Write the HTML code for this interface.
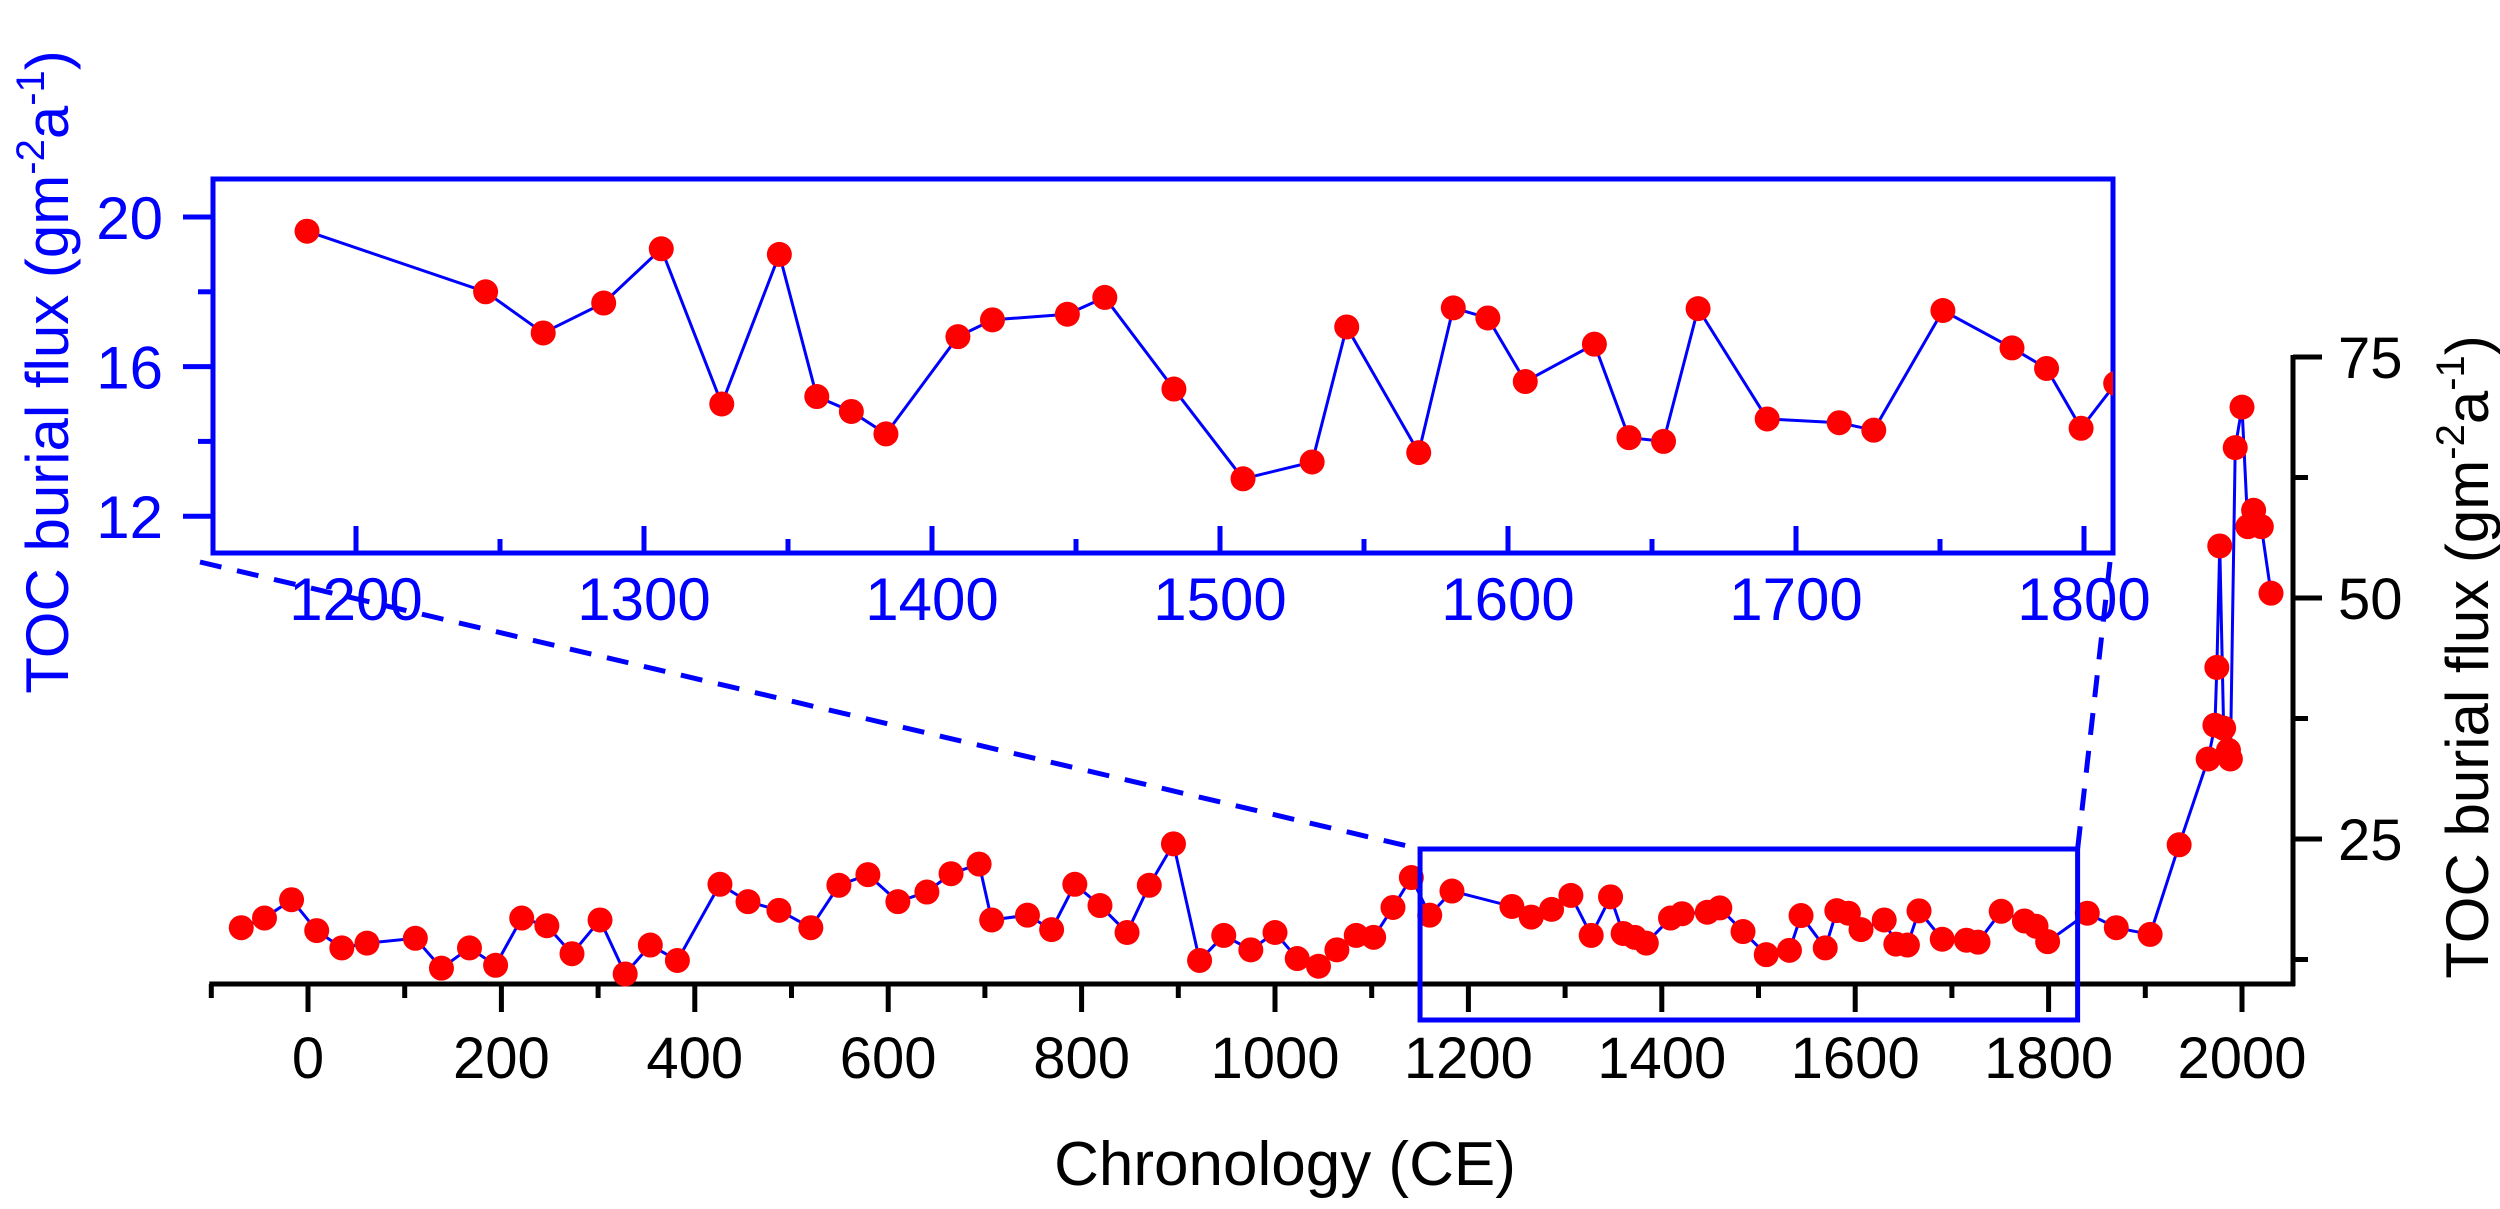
<!DOCTYPE html>
<html><head><meta charset="utf-8"><style>
html,body{margin:0;padding:0;background:#fff}
svg{display:block;font-family:"Liberation Sans",Arial,sans-serif}
</style></head><body>
<svg id="chart" width="2500" height="1209" viewBox="0 0 2500 1209" xmlns="http://www.w3.org/2000/svg">
<defs><clipPath id="insetClip"><rect x="213" y="179" width="1900" height="374"/></clipPath></defs>
<g id="main"></g>
<g id="inset"></g>
<text x="1285" y="1185" font-size="62" text-anchor="middle" fill="#000">Chronology (CE)</text>
<text transform="translate(2488,657) rotate(-90)" font-size="60" text-anchor="middle" fill="#000">TOC burial flux (gm<tspan font-size="40" dy="-24">-2</tspan><tspan dy="24">a</tspan><tspan font-size="40" dy="-24">-1</tspan><tspan dy="24">)</tspan></text>
<text transform="translate(68,372) rotate(-90)" font-size="60" text-anchor="middle" fill="#0000ff">TOC burial flux (gm<tspan font-size="40" dy="-24">-2</tspan><tspan dy="24">a</tspan><tspan font-size="40" dy="-24">-1</tspan><tspan dy="24">)</tspan></text>
</svg>
<script>
const mainYears=[-69,-45,-17,9,35,61,111,138,167,194,221,247,273,302,328,354,382,426,455,487,520,549,579,610,640,665,694,707,744,769,793,819,847,870,895,922,947,975,1000,1023,1045,1064,1084,1102,1122,1141,1160,1183,1245,1265,1286,1306,1327,1347,1360,1372,1384,1409,1421,1447,1460,1484,1508,1532,1544,1569,1581,1593,1606,1630,1642,1654,1666,1690,1715,1727,1751,1775,1787,1799,1840,1870,1905,1935,1965,1972,1974,1977,1981,1986,1988,1993,2000,2006,2012,2020,2030];
const mainValues=[15.8,16.8,18.7,15.5,13.7,14.2,14.7,11.6,13.7,11.9,16.8,16.0,13.1,16.6,11.0,14.0,12.4,20.3,18.5,17.6,15.8,20.2,21.3,18.5,19.5,21.4,22.4,16.6,17.1,15.6,20.3,18.1,15.3,20.2,24.5,12.4,15.0,13.5,15.3,12.6,11.8,13.5,15.0,14.8,17.9,21.0,17.1,19.6,18.0,16.9,17.7,19.15,15.0,19.0,15.2,14.8,14.2,16.8,17.25,17.4,17.85,15.4,13.0,13.45,17.06,13.7,17.57,17.3,15.6,16.6,14.1,14.0,17.55,14.6,14.5,14.3,17.5,16.5,15.95,14.35,17.3,15.8,15.1,24.4,33.3,36.8,42.8,55.4,36.5,34.2,33.3,65.6,69.8,57.4,59.1,57.4,50.5];
const mainXTicks=[0,200,400,600,800,1000,1200,1400,1600,1800,2000];
const mainYTicks=[25,50,75];
const insetYears=[1183,1245,1265,1286,1306,1327,1347,1360,1372,1384,1409,1421,1447,1460,1484,1508,1532,1544,1569,1581,1593,1606,1630,1642,1654,1666,1690,1715,1727,1751,1775,1787,1799,1811];
const insetValues=[19.62,18.0,16.9,17.7,19.15,15.0,19.0,15.2,14.8,14.2,16.8,17.25,17.4,17.85,15.4,13.0,13.45,17.06,13.7,17.57,17.3,15.6,16.6,14.1,14.0,17.55,14.6,14.5,14.3,17.5,16.5,15.95,14.35,15.55];
const insetXTicks=[1200,1300,1400,1500,1600,1700,1800];
const insetYTicks=[12,16,20];

const NS="http://www.w3.org/2000/svg";
function mk(tag,attrs,parent){const e=document.createElementNS(NS,tag);for(const k in attrs)e.setAttribute(k,attrs[k]);parent.appendChild(e);return e;}
const mx=y=>308+y*0.967;
const my=v=>357+(75-v)*9.64;
const ix=y=>356+(y-1200)*2.88;
const iy=v=>217+(20-v)*37.4;

const main=document.getElementById('main');
const inset=document.getElementById('inset');

let ax=mk('line',{x1:mx(-100)-2,y1:984,x2:2295,y2:984,stroke:'#000','stroke-width':5},main);


for(let t=-100;t<=2000;t+=100){
  const major=t%200===0;
  const tk=mk('line',{x1:mx(t),y1:984,x2:mx(t),y2:major?1012:998,stroke:'#000','stroke-width':5},main);
  
  
}
mainXTicks.forEach(t=>{
  const tx=mk('text',{x:mx(t),y:1078,'font-size':58,'text-anchor':'middle',fill:'#000'},main);
  
  
  tx.textContent=t;
});
let ay=mk('line',{x1:2293,y1:355,x2:2293,y2:986,stroke:'#000','stroke-width':5},main);


for(let v=12.5;v<=75;v+=12.5){
  const major=v%25===0;
  const tk=mk('line',{x1:2293,y1:my(v),x2:major?2322:2308,y2:my(v),stroke:'#000','stroke-width':5},main);
  
  
}
mainYTicks.forEach(v=>{
  const tx=mk('text',{x:2338,y:my(v)+21,'font-size':58,fill:'#000'},main);
  
  
  tx.textContent=v;
});
let pts=mainYears.map((y,i)=>mx(y)+','+my(mainValues[i])).join(' ');
let pl=mk('polyline',{points:pts,fill:'none',stroke:'#0000ff','stroke-width':3},main);


mainYears.forEach((y,i)=>{
  const c=mk('circle',{cx:mx(y),cy:my(mainValues[i]),r:12.5,fill:'#ff0000'},main);
  
  
});
const rx1=mx(1150), rx2=mx(1830);
let zr=mk('rect',{x:rx1,y:849,width:rx2-rx1,height:171,fill:'none',stroke:'#0000ff','stroke-width':5},main);


let d1=mk('line',{x1:200,y1:562,x2:rx1,y2:849,stroke:'#0000ff','stroke-width':5,'stroke-dasharray':'22 16'},main);


let d2=mk('line',{x1:2110,y1:562,x2:rx2,y2:849,stroke:'#0000ff','stroke-width':5,'stroke-dasharray':'22 16'},main);



let ib=mk('rect',{x:213,y:179,width:1900,height:374,fill:'#fff',stroke:'#0000ff','stroke-width':5},inset);


for(let t=1200;t<=1800;t+=50){
  const major=t%100===0;
  const tk=mk('line',{x1:ix(t),y1:553,x2:ix(t),y2:major?526:539,stroke:'#0000ff','stroke-width':5},inset);
  
  
}
insetXTicks.forEach(t=>{
  const tx=mk('text',{x:ix(t),y:620,'font-size':60,'text-anchor':'middle',fill:'#0000ff'},inset);
  
  
  tx.textContent=t;
});
for(let v=12;v<=20;v+=2){
  const major=v%4===0;
  const tk=mk('line',{x1:213,y1:iy(v),x2:major?183:198,y2:iy(v),stroke:'#0000ff','stroke-width':5},inset);
  
  
}
insetYTicks.forEach(v=>{
  const tx=mk('text',{x:163,y:iy(v)+22,'font-size':60,'text-anchor':'end',fill:'#0000ff'},inset);
  
  
  tx.textContent=v;
});
const ig=mk('g',{'clip-path':'url(#insetClip)'},inset);


let ipts=insetYears.map((y,i)=>ix(y)+','+iy(insetValues[i])).join(' ');
let ipl=mk('polyline',{points:ipts,fill:'none',stroke:'#0000ff','stroke-width':3},ig);


insetYears.forEach((y,i)=>{
  const c=mk('circle',{cx:ix(y),cy:iy(insetValues[i]),r:12.5,fill:'#ff0000'},ig);
  
  
});
</script>
</body></html>
